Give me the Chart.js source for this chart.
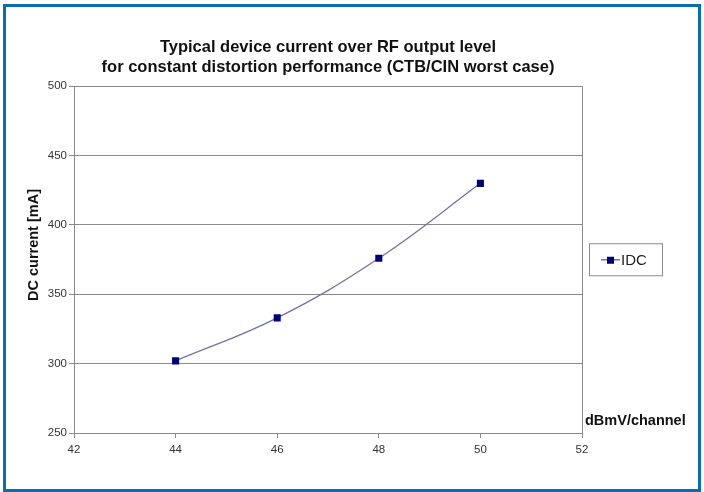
<!DOCTYPE html>
<html lang="en">
<head>
  <meta charset="UTF-8">
  <title>Typical device current over RF output level</title>
  <style>
    body { margin: 0; padding: 0; background: #fff; font-family: Arial, "Liberation Sans", sans-serif; }
    #frame { position: absolute; left: 3px; top: 4px; width: 692px; height: 482px; border: 3px solid #0a6db1; }
    #box { position: absolute; left: 0; top: 0; width: 704px; height: 492px; }
  </style>
  <script src="https://cdn.jsdelivr.net/npm/chart.js"></script>
</head>
<body>
  <div id="frame"></div>
  <div id="box"><canvas id="chart"></canvas></div>
  <script>
    // Werte
    const pegel = [44, 46, 48, 50];          // dBmV/channel
    const strom = [302, 333, 376, 430];      // IDC in mA
    const xTicks = [42, 44, 46, 48, 50, 52];
    const yTicks = [250, 300, 350, 400, 450, 500];

    const FONT = 'Arial, "Liberation Sans", sans-serif';
    const GRID = '#8a8a8a';

    // Legende mit Rahmen, y-Titel und Achsenbeschriftung rechts unten
    const extras = {
      id: 'extras',
      afterDraw(chart) {
        const ctx = chart.ctx;
        const area = chart.chartArea;
        const ds = chart.data.datasets[0];
        ctx.save();
        // Legendenrahmen
        const lx = area.right + 7, ly = area.top + 157, lw = 73, lh = 32;
        ctx.strokeStyle = GRID;
        ctx.lineWidth = 1;
        ctx.strokeRect(lx + 0.5, ly + 0.5, lw, lh);
        const cy = ly + lh / 2 + 0.5;
        ctx.strokeStyle = ds.borderColor;
        ctx.lineWidth = 1.5;
        ctx.beginPath();
        ctx.moveTo(lx + 12, cy);
        ctx.lineTo(lx + 31, cy);
        ctx.stroke();
        ctx.fillStyle = ds.pointBackgroundColor;
        ctx.fillRect(lx + 18, cy - 3, 7, 7);
        ctx.fillStyle = '#222';
        ctx.font = '15px ' + FONT;
        ctx.textBaseline = 'middle';
        ctx.fillText(ds.label, lx + 32, cy + 1);
        // x-Achsentitel
        ctx.font = 'bold 14.5px ' + FONT;
        ctx.fillStyle = '#111';
        ctx.fillText('dBmV/channel', area.right + 3, area.bottom - 12);
        // y-Achsentitel
        ctx.textBaseline = 'alphabetic';
        ctx.translate(38, 245);
        ctx.rotate(-Math.PI / 2);
        ctx.textAlign = 'center';
        ctx.font = 'bold 14.5px ' + FONT;
        ctx.fillText('DC current [mA]', 0, 0);
        ctx.restore();
      }
    };

    new Chart(document.getElementById('chart'), {
      type: 'scatter',
      data: {
        datasets: [{
          label: 'IDC',
          data: pegel.map((p, i) => ({ x: p, y: strom[i] })),
          showLine: true,
          tension: 0.4,
          borderColor: '#7472a6',
          borderWidth: 1.3,
          pointStyle: 'rect',
          pointRadius: 5,
          pointBackgroundColor: '#00007a',
          pointBorderColor: '#00007a',
          pointBorderWidth: 0
        }]
      },
      options: {
        responsive: true,
        maintainAspectRatio: false,
        animation: false,
        layout: { padding: { left: 0, right: 122, top: 0, bottom: 0 } },
        plugins: {
          legend: { display: false },
          tooltip: { enabled: false },
          title: {
            display: true,
            fullSize: false,
            text: ['Typical device current over RF output level',
                   'for constant distortion performance (CTB/CIN worst case)'],
            color: '#111',
            font: { family: FONT, size: 16.5, weight: 'bold', lineHeight: 1.22 },
            padding: { top: 37, bottom: 9 }
          }
        },
        scales: {
          x: {
            type: 'linear',
            min: 42, max: 52,
            afterBuildTicks: s => { s.ticks = xTicks.map(v => ({ value: v })); },
            afterFit: s => { s.height = 59; },
            ticks: { color: '#333', font: { family: FONT, size: 11.5 }, padding: 5 },
            grid: {
              color: c => (c.tick && c.tick.value === 52) ? GRID : 'rgba(0,0,0,0)',
              tickColor: GRID,
              tickLength: 5
            },
            border: { color: GRID }
          },
          y: {
            min: 250, max: 500,
            afterBuildTicks: s => { s.ticks = yTicks.map(v => ({ value: v })); },
            afterFit: s => { s.width = 74; },
            ticks: { color: '#333', font: { family: FONT, size: 11.5 }, padding: 2 },
            grid: { color: GRID, tickColor: GRID, tickLength: 5 },
            border: { color: GRID }
          }
        }
      },
      plugins: [extras]
    });
  </script>
</body>
</html>
